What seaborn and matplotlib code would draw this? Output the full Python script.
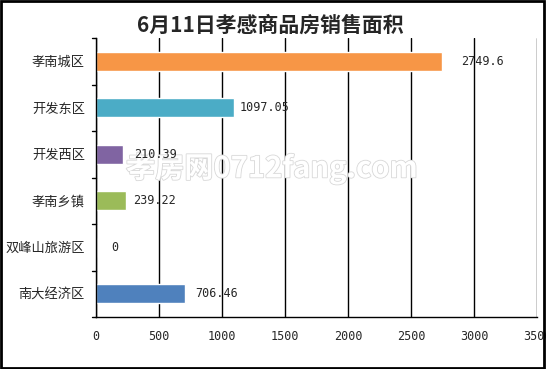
import matplotlib
matplotlib.use("Agg")
import matplotlib.pyplot as plt
import matplotlib.patheffects as pe
import seaborn as sns
import pandas as pd

# Data
districts = ["孝南城区", "开发东区", "开发西区", "孝南乡镇", "双峰山旅游区", "南大经济区"]
areas = [2749.6, 1097.05, 210.39, 239.22, 0, 706.46]
value_labels = ["2749.6", "1097.05", "210.39", "239.22", "0", "706.46"]
colors = ["#F79646", "#4BACC6", "#8064A2", "#9BBB59", "#4F81BD", "#4F81BD"]
xticks = [0, 500, 1000, 1500, 2000, 2500, 3000, 3500]

df = pd.DataFrame({"district": districts, "area": areas})

sns.set_style("white")
plt.rcParams['font.family'] = ['Noto Sans CJK SC', 'DejaVu Sans']

fig = plt.figure(figsize=(5.46, 3.69), dpi=100)
ax = fig.add_axes([96 / 546, 1 - 317 / 369, 441 / 546, 279 / 369])

sns.barplot(data=df, y="district", x="area", hue="district", palette=colors,
            order=districts, hue_order=districts, width=0.4, legend=False,
            saturation=1, ax=ax)

ax.set_xlim(0, 3500)
ax.set_ylim(5.5, -0.5)
ax.set_xticks(xticks)
ax.set_xticklabels([str(t) for t in xticks], fontsize=8.5, family=['DejaVu Sans Mono'])
ax.set_yticks(range(len(districts)))
ax.set_yticklabels(districts, fontsize=9.5)
ax.tick_params(axis='y', length=0, pad=8)
ax.tick_params(axis='x', length=5, width=1, color='black', direction='out', pad=4)
ax.set_xlabel("")
ax.set_ylabel("")

# category separators on the y axis
for b in [x - 0.5 for x in range(len(districts) + 1)]:
    ax.plot([-0.009, 0], [b, b], transform=ax.get_yaxis_transform(),
            color='black', lw=1, clip_on=False)

ax.grid(axis='x', color='black', lw=1)
ax.set_axisbelow(True)
for s in ["top", "right"]:
    ax.spines[s].set_visible(False)
for s in ["left", "bottom"]:
    ax.spines[s].set_color("black")
    ax.spines[s].set_linewidth(1)

# value labels
offsets = [150, 40, 90, 55, 120, 80]
for i, (v, lab) in enumerate(zip(areas, value_labels)):
    ax.text(v + offsets[i], i, lab, va='center', ha='left', fontsize=8.5,
            family=['DejaVu Sans Mono'])

# watermark, above the grid but under the labels
wm = ax.text(0.498, 0.545, "孝房网0712fang.com", ha='center', va='center',
             fontsize=21, color='white', fontweight='bold', zorder=0.8,
             transform=fig.transFigure)
wm.set_path_effects([pe.withStroke(linewidth=1.2, foreground='#d8d8d8')])

fig.text(0.495, 0.932, "6月11日孝感商品房销售面积", ha='center', va='center',
         fontsize=15, fontweight='bold')

# outer border
fig.patches.append(plt.Rectangle((0.002, 0.003), 0.995, 0.994, transform=fig.transFigure,
                                 fill=False, edgecolor='black', lw=2))

fig.savefig("out.png", dpi=100)
